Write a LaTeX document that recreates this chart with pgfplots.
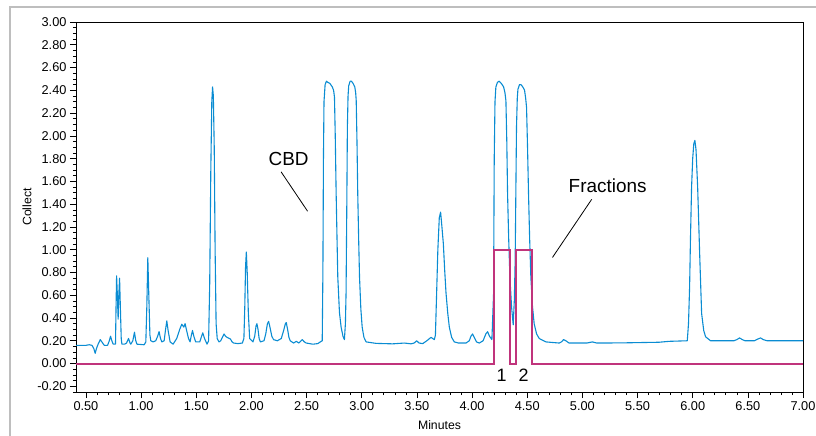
\documentclass[border=0pt]{standalone}
\usepackage{fontspec}
\setmainfont{Liberation Sans}
\usepackage{pgfplots}
\pgfplotsset{compat=1.18}
\definecolor{trace}{RGB}{10,140,210}
\definecolor{frac}{RGB}{192,52,124}
\definecolor{frame}{RGB}{190,190,190}

\pgfplotstableread{
x y
0.41 0.16
0.50 0.16
0.53 0.165
0.555 0.16
0.572 0.13
0.584 0.09
0.595 0.13
0.606 0.16
0.63 0.21
0.648 0.185
0.666 0.16
0.696 0.16
0.712 0.2
0.723 0.24
0.735 0.2
0.747 0.17
0.768 0.17
0.773 0.5
0.778 0.77
0.785 0.6
0.792 0.39
0.798 0.6
0.805 0.75
0.812 0.5
0.82 0.22
0.826 0.17
0.85 0.17
0.868 0.18
0.886 0.22
0.9 0.18
0.907 0.17
0.925 0.2
0.94 0.275
0.952 0.2
0.962 0.17
1.028 0.165
1.043 0.19
1.052 0.5
1.061 0.93
1.07 0.6
1.08 0.25
1.088 0.2
1.109 0.19
1.133 0.2
1.15 0.24
1.163 0.28
1.176 0.22
1.188 0.19
1.209 0.2
1.222 0.3
1.233 0.375
1.245 0.29
1.263 0.19
1.29 0.17
1.323 0.22
1.35 0.3
1.369 0.345
1.387 0.32
1.399 0.35
1.415 0.28
1.43 0.22
1.444 0.19
1.456 0.25
1.466 0.29
1.478 0.24
1.495 0.19
1.532 0.19
1.545 0.23
1.559 0.27
1.575 0.22
1.598 0.17
1.612 0.2
1.622 0.7
1.632 1.7
1.641 2.3
1.648 2.43
1.655 2.35
1.663 1.9
1.671 1.0
1.68 0.35
1.69 0.22
1.706 0.19
1.722 0.2
1.737 0.23
1.752 0.26
1.765 0.24
1.779 0.23
1.81 0.215
1.825 0.19
1.839 0.18
1.878 0.175
1.918 0.18
1.932 0.22
1.94 0.5
1.947 0.85
1.954 0.98
1.962 0.8
1.972 0.45
1.984 0.22
2.014 0.19
2.03 0.24
2.042 0.33
2.05 0.35
2.06 0.3
2.07 0.22
2.081 0.19
2.114 0.2
2.13 0.26
2.145 0.35
2.156 0.37
2.168 0.32
2.185 0.24
2.201 0.21
2.235 0.2
2.271 0.22
2.295 0.3
2.308 0.35
2.316 0.36
2.328 0.3
2.34 0.23
2.352 0.2
2.382 0.18
2.407 0.195
2.43 0.18
2.461 0.21
2.48 0.19
2.497 0.18
2.557 0.17
2.602 0.175
2.624 0.19
2.642 0.2
2.648 0.8
2.653 1.8
2.658 2.3
2.668 2.45
2.68 2.48
2.693 2.47
2.712 2.46
2.733 2.43
2.745 2.4
2.753 2.34
2.76 2.0
2.768 1.5
2.776 1.1
2.783 0.76
2.798 0.45
2.813 0.32
2.83 0.24
2.843 0.21
2.852 0.35
2.858 0.62
2.864 1.3
2.87 2.08
2.876 2.35
2.882 2.44
2.895 2.48
2.907 2.48
2.922 2.46
2.937 2.43
2.945 2.38
2.95 2.31
2.957 1.95
2.964 1.49
2.972 1.1
2.98 0.76
2.992 0.48
3.004 0.32
3.02 0.23
3.04 0.19
3.131 0.177
3.28 0.173
3.387 0.18
3.447 0.173
3.475 0.18
3.498 0.2
3.52 0.18
3.553 0.175
3.59 0.2
3.628 0.23
3.658 0.21
3.668 0.25
3.679 0.62
3.69 1.0
3.703 1.28
3.715 1.33
3.727 1.2
3.74 1.05
3.752 0.82
3.764 0.62
3.78 0.44
3.794 0.32
3.815 0.23
3.839 0.19
3.878 0.18
3.945 0.18
3.975 0.2
3.99 0.24
4.005 0.26
4.02 0.23
4.04 0.19
4.066 0.18
4.1 0.2
4.125 0.26
4.141 0.28
4.158 0.24
4.18 0.21
4.195 0.61
4.201 1.79
4.208 2.3
4.216 2.43
4.23 2.47
4.246 2.48
4.266 2.46
4.286 2.43
4.298 2.38
4.307 2.31
4.315 1.95
4.322 1.49
4.332 1.1
4.343 0.76
4.358 0.5
4.373 0.34
4.383 0.55
4.391 0.91
4.397 1.5
4.403 2.08
4.41 2.33
4.416 2.41
4.43 2.45
4.443 2.45
4.46 2.43
4.476 2.40
4.486 2.33
4.494 2.25
4.503 1.9
4.512 1.49
4.522 1.1
4.533 0.76
4.548 0.5
4.563 0.35
4.585 0.26
4.609 0.22
4.669 0.19
4.79 0.18
4.81 0.19
4.83 0.21
4.85 0.2
4.88 0.18
4.971 0.18
5.04 0.18
5.091 0.19
5.13 0.18
5.182 0.18
5.393 0.182
5.695 0.187
5.785 0.195
5.951 0.2
5.962 0.35
5.972 0.67
5.98 1.1
5.99 1.55
6.0 1.8
6.01 1.93
6.02 1.96
6.03 1.88
6.045 1.55
6.063 0.97
6.081 0.44
6.1 0.29
6.117 0.235
6.162 0.2
6.373 0.2
6.4 0.21
6.425 0.225
6.45 0.21
6.475 0.2
6.524 0.2
6.56 0.2
6.59 0.215
6.615 0.225
6.64 0.21
6.675 0.2
6.81 0.2
7.0 0.2
}\chrom

\pgfplotstableread{
x y
0.41 0
4.199 0
4.199 1
4.346 1
4.346 0
4.394 0
4.394 1
4.539 1
4.539 0
7.0 0
}\fracdata

\begin{document}
\begin{tikzpicture}
\begin{axis}[
  scale only axis,
  width=727bp, height=370bp,
  xmin=0.41, xmax=7.0,
  ymin=-0.25, ymax=3.0,
  xtick distance=0.5, ytick distance=0.2,
  minor x tick num=4, minor y tick num=3,
  tick align=outside,
  major tick length=6bp, minor tick length=3bp,
  xtick pos=bottom, ytick pos=left,
  axis line style={black, line width=0.8bp},
  every tick/.style={black, line width=0.6bp},
  tick label style={font=\fontsize{12.8}{14}\selectfont, /pgf/number format/assume math mode=true},
  /pgf/number format/.cd, fixed, fixed zerofill, precision=2,
  /pgfplots/.cd,
  xlabel={Minutes}, ylabel={Collect},
  label style={font=\fontsize{12.3}{14}\selectfont},
  xlabel style={at={(axis description cs:0.5,-0.0892)}, anchor=center},
  ylabel style={at={(axis description cs:-0.0674,0.5)}, anchor=center},
]
\addplot[trace, line width=1.1bp, line join=round] table[x=x,y=y] {\chrom};
\addplot[frac, line width=2bp, line join=miter] table[x=x,y=y] {\fracdata};
\draw[black, line width=0.8bp] (axis cs:2.269,1.684) -- (axis cs:2.509,1.338);
\node[font=\fontsize{19}{22}\selectfont, inner sep=0pt] at (axis cs:2.337,1.80) {CBD};
\draw[black, line width=0.8bp] (axis cs:5.085,1.443) -- (axis cs:4.729,0.932);
\node[font=\fontsize{19}{22}\selectfont, inner sep=0pt] at (axis cs:5.229,1.566) {Fractions};
\node[font=\fontsize{18}{22}\selectfont, inner sep=0pt] at (axis cs:4.267,-0.10) {1};
\node[font=\fontsize{18}{22}\selectfont, inner sep=0pt] at (axis cs:4.467,-0.10) {2};
\end{axis}
\draw[frame, line width=2bp] ([xshift=-66bp,yshift=-60bp]current axis.south west) -- ([xshift=-66bp,yshift=15bp]current axis.north west) -- ([xshift=30bp,yshift=15bp]current axis.north east);
\pgfresetboundingbox
\useasboundingbox ([xshift=-76bp,yshift=-44bp]current axis.south west) rectangle ([xshift=13bp,yshift=22bp]current axis.north east);
\end{tikzpicture}
\end{document}
